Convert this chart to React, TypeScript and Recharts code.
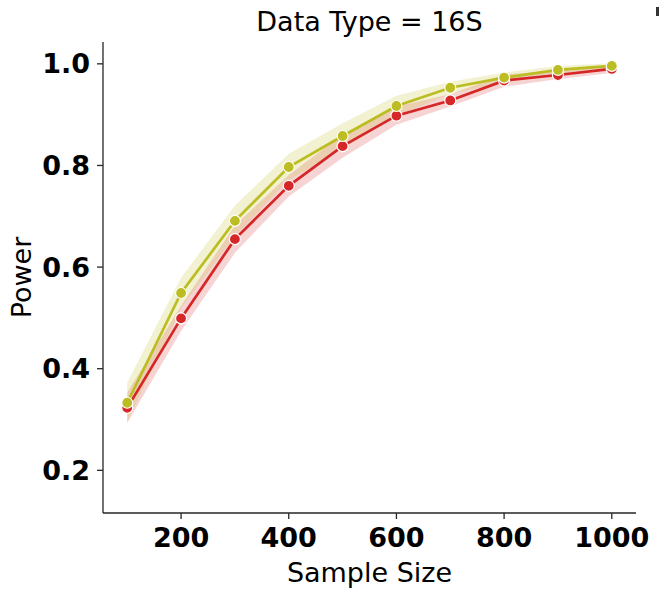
import { ComposedChart, Line, Area, XAxis, YAxis, Label } from 'recharts'

const sampleSizes = [100, 200, 300, 400, 500, 600, 700, 800, 900, 1000]

const redMean = [0.323, 0.499, 0.655, 0.76, 0.838, 0.898, 0.928, 0.967, 0.978, 0.99]
const redLow = [0.293, 0.474, 0.628, 0.739, 0.815, 0.88, 0.916, 0.955, 0.97, 0.982]
const redHigh = [0.353, 0.524, 0.682, 0.781, 0.861, 0.916, 0.94, 0.979, 0.986, 0.998]

const oliveMean = [0.333, 0.549, 0.691, 0.797, 0.858, 0.917, 0.953, 0.973, 0.988, 0.996]
const oliveLow = [0.295, 0.519, 0.661, 0.771, 0.833, 0.897, 0.941, 0.963, 0.98, 0.991]
const oliveHigh = [0.373, 0.579, 0.721, 0.823, 0.883, 0.937, 0.965, 0.983, 0.996, 1.001]

const xTicks = [200, 400, 600, 800, 1000]
const yTicks = [0.2, 0.4, 0.6, 0.8, 1.0]

const RED = '#d62728'
const OLIVE = '#bcbd22'
const AXIS = '#262626'
const FONT = '"DejaVu Sans", sans-serif'

const data = sampleSizes.map((n, i) => ({
  n,
  red: redMean[i],
  redBand: [redLow[i], redHigh[i]],
  olive: oliveMean[i],
  oliveBand: [oliveLow[i], oliveHigh[i]],
}))

const tickStyle = { fill: '#000', fontSize: 27, fontWeight: 'bold', fontFamily: FONT }

export default function App() {
  return (
    <div style={{ position: 'absolute', left: 0, top: 0, width: 659, height: 594, background: '#fff' }}>
      <div
        style={{
          position: 'absolute',
          left: 0,
          width: 739,
          top: 6,
          textAlign: 'center',
          fontFamily: FONT,
          fontSize: 27,
          color: '#000',
        }}
      >
        Data Type = 16S
      </div>
      <div style={{ position: 'absolute', left: 656, top: 7, width: 3, height: 9, background: '#333' }} />
      <ComposedChart
        width={659}
        height={594}
        data={data}
        margin={{ top: 42, right: 23, bottom: 0, left: 0 }}
        style={{ fontFamily: FONT }}
      >
        <XAxis
          dataKey="n"
          type="number"
          domain={[55, 1045]}
          ticks={xTicks}
          allowDataOverflow
          height={81}
          tickSize={6}
          tickMargin={9}
          stroke={AXIS}
          strokeWidth={1.3}
          tick={tickStyle}
        >
          <Label
            value="Sample Size"
            position="insideBottom"
            offset={12}
            style={{ fill: '#000', fontSize: 27, fontFamily: FONT }}
          />
        </XAxis>
        <YAxis
          type="number"
          domain={[0.116, 1.043]}
          ticks={yTicks}
          allowDataOverflow
          width={103}
          tickSize={6}
          tickMargin={7}
          stroke={AXIS}
          strokeWidth={1.3}
          tick={tickStyle}
          tickFormatter={(v: number) => v.toFixed(1)}
        >
          <Label
            value="Power"
            angle={-90}
            position="insideLeft"
            offset={21}
            style={{ fill: '#000', fontSize: 27, fontFamily: FONT, textAnchor: 'middle' }}
          />
        </YAxis>
        <Area
          dataKey="redBand"
          type="linear"
          stroke="none"
          fill={RED}
          fillOpacity={0.2}
          isAnimationActive={false}
        />
        <Area
          dataKey="oliveBand"
          type="linear"
          stroke="none"
          fill={OLIVE}
          fillOpacity={0.2}
          isAnimationActive={false}
        />
        <Line
          dataKey="red"
          type="linear"
          stroke={RED}
          strokeWidth={2.7}
          dot={{ r: 5.5, fill: RED, stroke: '#fff', strokeWidth: 1.2 }}
          isAnimationActive={false}
        />
        <Line
          dataKey="olive"
          type="linear"
          stroke={OLIVE}
          strokeWidth={2.7}
          dot={{ r: 5.5, fill: OLIVE, stroke: '#fff', strokeWidth: 1.2 }}
          isAnimationActive={false}
        />
      </ComposedChart>
    </div>
  )
}
